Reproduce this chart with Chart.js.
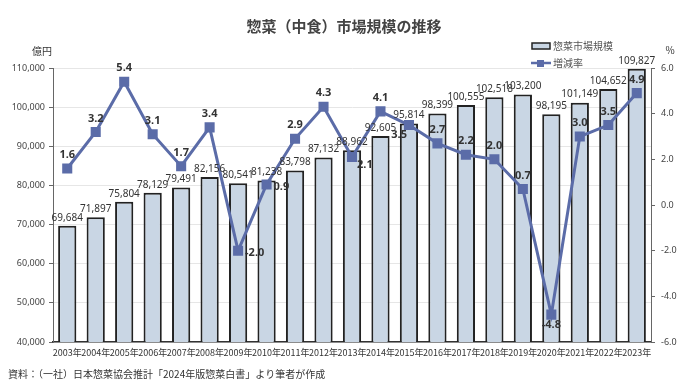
<!DOCTYPE html>
<html>
<head>
<meta charset="utf-8">
<script src="https://cdn.jsdelivr.net/npm/chart.js@4/dist/chart.umd.min.js"></script>
<style>
  html, body { margin: 0; padding: 0; background: #fff; }
  #wrap { width: 680px; height: 387px; }
</style>
</head>
<body>
<div id="wrap"><canvas id="chart"></canvas></div>
<script>
const years = [
  "2003年", "2004年", "2005年", "2006年", "2007年", "2008年", "2009年",
  "2010年", "2011年", "2012年", "2013年", "2014年", "2015年", "2016年",
  "2017年", "2018年", "2019年", "2020年", "2021年", "2022年", "2023年"
];

// 惣菜市場規模 (億円)
const marketSize = [
  69684, 71897, 75804, 78129, 79491, 82156, 80541,
  81238, 83798, 87132, 88962, 92605, 95814, 98399,
  100555, 102518, 103200, 98195, 101149, 104652, 109827
];

// 増減率 (%)
const growthRate = [
  1.6, 3.2, 5.4, 3.1, 1.7, 3.4, -2.0,
  0.9, 2.9, 4.3, 2.1, 4.1, 3.5, 2.7,
  2.2, 2.0, 0.7, -4.8, 3.0, 3.5, 4.9
];

const title = "惣菜（中食）市場規模の推移";
const source = "資料：（一社）日本惣菜協会推計「2024年版惣菜白書」より筆者が作成";

const jp = '"Noto Sans CJK JP", "Noto Sans", sans-serif';
const num = '"Noto Sans", "Liberation Sans", sans-serif';
const lineColor = "#5b6ca8";

// where to put each rate label if not above the point
const ratePlace = { 6: "right", 7: "right", 10: "rightdown", 12: "leftdown", 17: "below" };

const extras = {
  id: "extras",
  afterDatasetsDraw(chart) {
    const ctx = chart.ctx;
    ctx.save();

    // bar value labels
    ctx.font = "10px " + num;
    ctx.fillStyle = "#333";
    ctx.textAlign = "center";
    ctx.textBaseline = "bottom";
    chart.getDatasetMeta(1).data.forEach((bar, i) => {
      ctx.fillText(marketSize[i].toLocaleString("en-US"), bar.x, bar.y - 3);
    });

    // rate labels
    ctx.font = "bold 11px " + num;
    ctx.fillStyle = "#333";
    chart.getDatasetMeta(0).data.forEach((pt, i) => {
      const txt = growthRate[i].toFixed(1);
      const p = ratePlace[i];
      if (p === "right") {
        ctx.textAlign = "left"; ctx.textBaseline = "middle";
        ctx.fillText(txt, pt.x + 7, pt.y + 2);
      } else if (p === "rightdown") {
        ctx.textAlign = "left"; ctx.textBaseline = "top";
        ctx.fillText(txt, pt.x + 5, pt.y + 2);
      } else if (p === "leftdown") {
        ctx.textAlign = "right"; ctx.textBaseline = "top";
        ctx.fillText(txt, pt.x - 2, pt.y + 4);
      } else if (p === "below") {
        ctx.textAlign = "center"; ctx.textBaseline = "top";
        ctx.fillText(txt, pt.x, pt.y + 5);
      } else {
        ctx.textAlign = "center"; ctx.textBaseline = "bottom";
        ctx.fillText(txt, pt.x, pt.y - 8);
      }
    });

    // title
    ctx.font = "bold 15px " + jp;
    ctx.fillStyle = "#444";
    ctx.textAlign = "center";
    ctx.textBaseline = "middle";
    ctx.fillText(title, 344, 26);

    // axis units
    ctx.font = "10px " + jp;
    ctx.fillStyle = "#333";
    ctx.fillText("億円", 42, 51);
    ctx.fillText("%", 670, 50);

    // legend
    ctx.fillStyle = "#c9d6e4";
    ctx.strokeStyle = "#222";
    ctx.lineWidth = 1.5;
    ctx.fillRect(532, 43, 18, 6);
    ctx.strokeRect(532, 43, 18, 6);
    ctx.strokeStyle = lineColor;
    ctx.lineWidth = 2.5;
    ctx.beginPath();
    ctx.moveTo(531, 63);
    ctx.lineTo(551, 63);
    ctx.stroke();
    ctx.fillStyle = lineColor;
    ctx.fillRect(537, 60, 7, 7);
    ctx.font = "10px " + jp;
    ctx.fillStyle = "#555";
    ctx.textAlign = "left";
    ctx.fillText("惣菜市場規模", 553, 46);
    ctx.fillText("増減率", 553, 63);

    // source
    ctx.font = "10px " + jp;
    ctx.fillStyle = "#333";
    ctx.fillText(source, 8, 374);
    ctx.restore();
  }
};

new Chart(document.getElementById("chart"), {
  data: {
    labels: years,
    datasets: [
      {
        type: "line",
        label: "増減率",
        data: growthRate,
        yAxisID: "yRate",
        borderColor: lineColor,
        backgroundColor: lineColor,
        borderWidth: 3,
        pointStyle: "rect",
        pointRadius: 5,
        pointHoverRadius: 5,
        tension: 0,
        order: 0
      },
      {
        type: "bar",
        label: "惣菜市場規模",
        data: marketSize,
        yAxisID: "y",
        backgroundColor: "#c9d6e4",
        borderColor: "#222",
        borderWidth: { top: 2, left: 2, right: 2, bottom: 0 },
        categoryPercentage: 1.0,
        barPercentage: 0.64,
        order: 1
      }
    ]
  },
  options: {
    responsive: true,
    maintainAspectRatio: false,
    animation: false,
    layout: { padding: { top: 68, left: 0, right: 0, bottom: 0 } },
    plugins: {
      legend: { display: false },
      tooltip: { enabled: false }
    },
    scales: {
      x: {
        grid: { display: false, drawTicks: false },
        border: { color: "#333", width: 1.5 },
        ticks: {
          font: { size: 9, family: jp },
          color: "#333",
          maxRotation: 0,
          autoSkip: false,
          padding: 5
        },
        afterFit(scale) { scale.height = 45; }
      },
      y: {
        position: "left",
        min: 40000,
        max: 110000,
        border: { color: "#666" },
        grid: { color: "#e6e6e6", tickLength: 4, tickColor: "#666" },
        ticks: {
          stepSize: 10000,
          font: { size: 9, family: num },
          color: "#444",
          padding: 4,
          callback: v => v.toLocaleString("en-US")
        },
        afterFit(scale) { scale.width = 53; }
      },
      yRate: {
        position: "right",
        min: -6,
        max: 6,
        border: { color: "#666" },
        grid: { drawOnChartArea: false, tickLength: 4, tickColor: "#666" },
        ticks: {
          stepSize: 2,
          font: { size: 9, family: num },
          color: "#444",
          padding: 6,
          callback: v => v.toFixed(1)
        },
        afterFit(scale) { scale.width = 29; }
      }
    }
  },
  plugins: [extras]
});
</script>
</body>
</html>
